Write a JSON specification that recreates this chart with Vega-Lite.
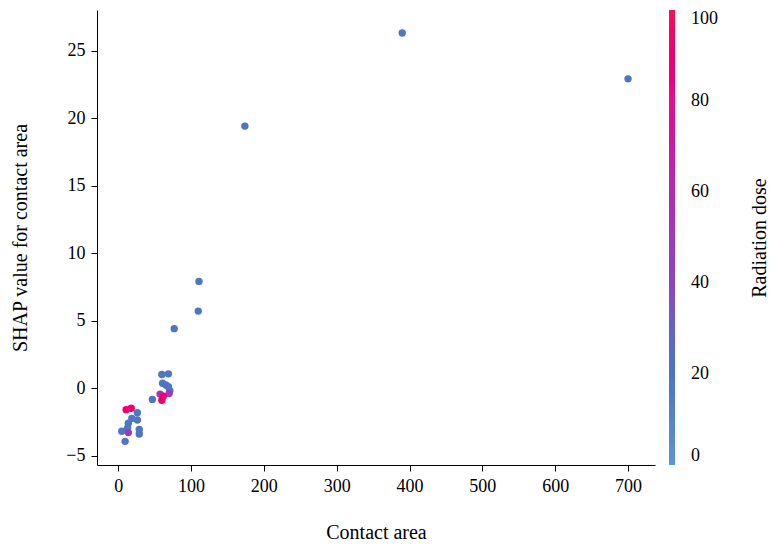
{
  "$schema": "https://vega.github.io/schema/vega-lite/v6.json",
  "width": 558,
  "height": 455,
  "autosize": "none",
  "padding": {"left": 97, "top": 10, "right": 116, "bottom": 88},
  "background": "white",
  "config": {
    "view": {"stroke": null},
    "font": "Liberation Serif",
    "axis": {"grid": false, "domainColor": "black", "tickColor": "black", "labelColor": "black", "titleColor": "black", "labelFont": "Liberation Serif", "titleFont": "Liberation Serif", "labelFontSize": 18, "titleFontSize": 20, "titleFontWeight": "normal", "tickSize": 6, "domainWidth": 1, "tickWidth": 1},
    "legend": {"labelFont": "Liberation Serif", "titleFont": "Liberation Serif", "labelFontSize": 18, "titleFontSize": 20, "titleFontWeight": "normal", "labelColor": "black", "titleColor": "black"}
  },
  "data": {
    "values": [
      {"area": 700, "shap": 22.9, "dose": 18},
      {"area": 390, "shap": 26.3, "dose": 18},
      {"area": 174, "shap": 19.4, "dose": 18},
      {"area": 111, "shap": 7.9, "dose": 18},
      {"area": 110, "shap": 5.7, "dose": 18},
      {"area": 77, "shap": 4.4, "dose": 18},
      {"area": 60, "shap": 1.0, "dose": 18},
      {"area": 69, "shap": 1.05, "dose": 18},
      {"area": 61, "shap": 0.35, "dose": 18},
      {"area": 65.5, "shap": 0.22, "dose": 18},
      {"area": 69, "shap": 0.1, "dose": 18},
      {"area": 71, "shap": -0.2, "dose": 18},
      {"area": 47, "shap": -0.84, "dose": 18},
      {"area": 26.4, "shap": -1.83, "dose": 18},
      {"area": 26.4, "shap": -2.37, "dose": 18},
      {"area": 18.8, "shap": -2.25, "dose": 18},
      {"area": 14, "shap": -2.6, "dose": 18},
      {"area": 13, "shap": -2.95, "dose": 18},
      {"area": 5, "shap": -3.2, "dose": 18},
      {"area": 29, "shap": -3.07, "dose": 18},
      {"area": 29, "shap": -3.4, "dose": 18},
      {"area": 9.6, "shap": -3.95, "dose": 18},
      {"area": 57.6, "shap": -0.45, "dose": 50},
      {"area": 70, "shap": -0.4, "dose": 50},
      {"area": 14, "shap": -3.3, "dose": 50},
      {"area": 62, "shap": -0.6, "dose": 92},
      {"area": 60, "shap": -0.9, "dose": 92},
      {"area": 11, "shap": -1.6, "dose": 92},
      {"area": 18, "shap": -1.5, "dose": 92}
    ]
  },
  "encoding": {
    "x": {"field": "area", "type": "quantitative", "title": "Contact area",
      "scale": {"domain": [-29, 737], "nice": false, "zero": false},
      "axis": {"values": [0, 100, 200, 300, 400, 500, 600, 700], "titlePadding": 27, "labelPadding": 6}}
  },
  "layer": [
    {
      "mark": {"type": "circle", "size": 55, "opacity": 1},
      "encoding": {
        "y": {"field": "shap", "type": "quantitative", "title": "SHAP value for contact area",
          "scale": {"domain": [-5.7, 28], "nice": false, "zero": false},
          "axis": {"values": [-5, 0, 5, 10, 15, 20, 25], "titlePadding": 35, "labelPadding": 6}},
        "color": {"field": "dose", "type": "quantitative",
          "scale": {"domain": [0, 20, 40, 60, 80, 100], "range": ["#5c95d8", "#4d73c0", "#8a45c0", "#b02bb0", "#e0108e", "#f2145a"]},
          "legend": {"orient": "none", "legendX": 572, "legendY": 0, "direction": "vertical", "gradientLength": 455, "gradientThickness": 6, "gradientStrokeWidth": 0, "values": [0, 20, 40, 60, 80, 100], "title": null, "labelOffset": 16, "labelBaseline": "middle"}
        }
      }
    },
    {
      "mark": {"type": "circle", "size": 55, "opacity": 0},
      "encoding": {
        "y": {"field": "shap", "type": "quantitative", "title": "Radiation dose",
          "scale": {"domain": [-5.7, 28], "nice": false, "zero": false},
          "axis": {"orient": "right", "labels": false, "ticks": false, "domain": false, "titleAngle": 270, "titlePadding": 114}}
      }
    }
  ],
  "resolve": {"axis": {"y": "independent"}}
}
